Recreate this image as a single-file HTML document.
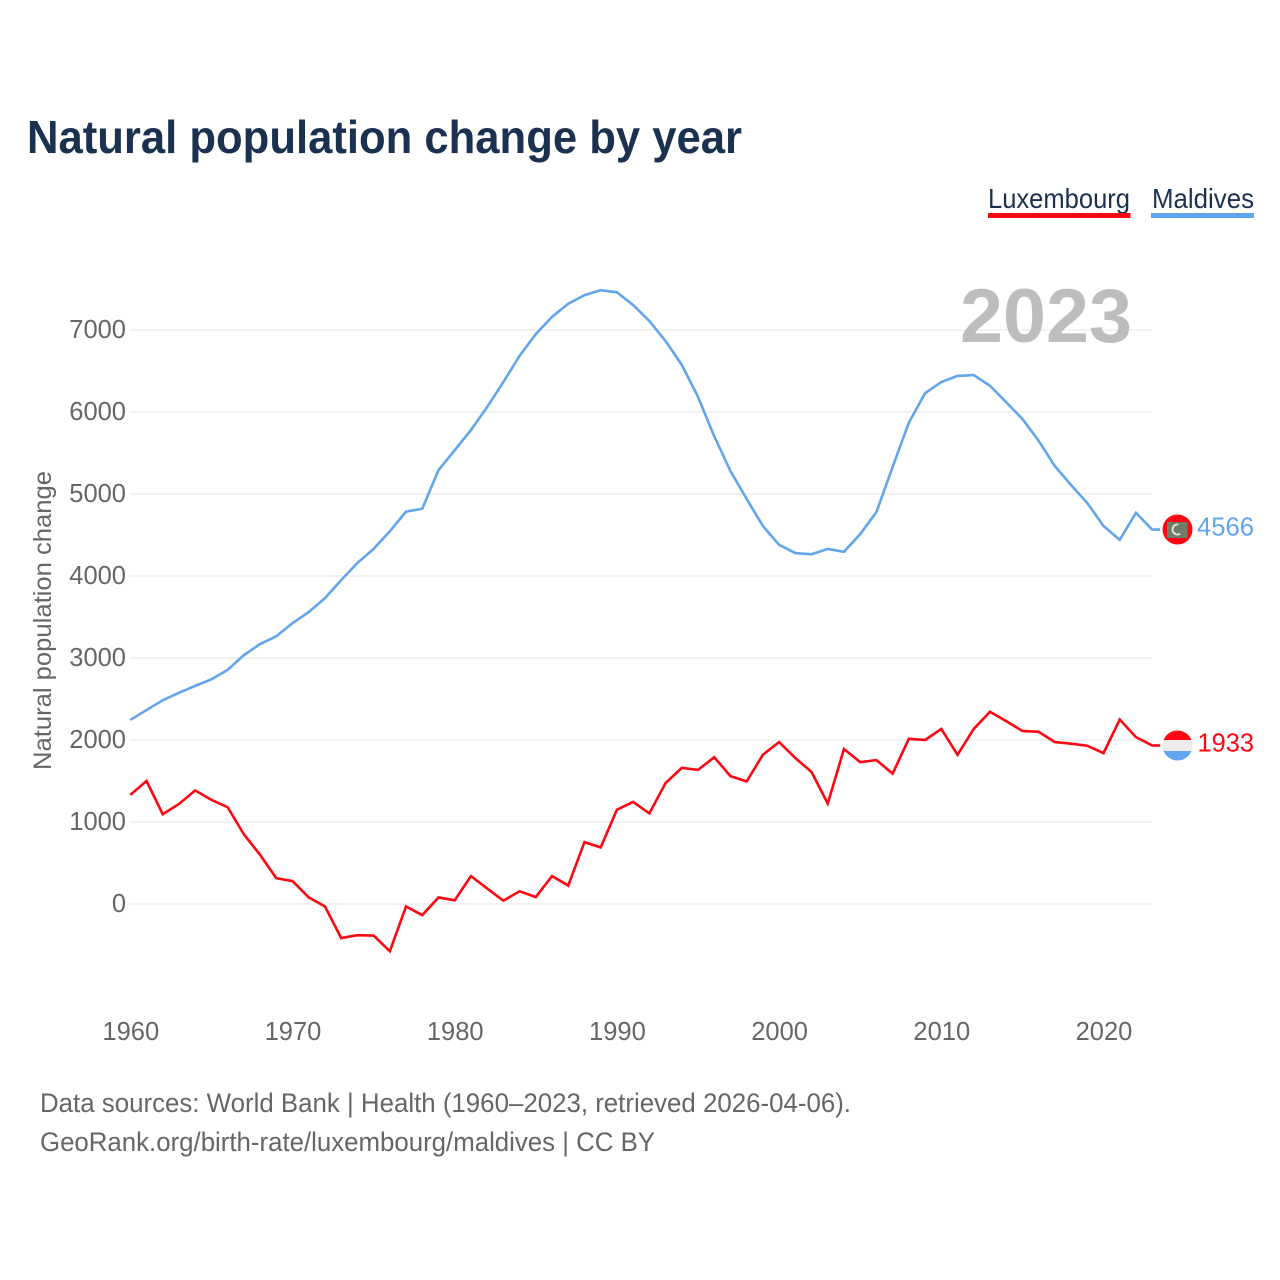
<!DOCTYPE html>
<html lang="en">
<head>
<meta charset="utf-8">
<title>Natural population change by year</title>
<style>
html,body{margin:0;padding:0;background:#fff;}
svg{display:block;}
text{font-family:"Liberation Sans",sans-serif;}
</style>
</head>
<body>
<svg id="chart" xmlns="http://www.w3.org/2000/svg" width="1280" height="1280" viewBox="0 0 1280 1280">
  <rect x="0" y="0" width="1280" height="1280" fill="#fff"/>
  <text x="27" y="153" font-size="46" font-weight="700" fill="#1a3150" textLength="715" lengthAdjust="spacingAndGlyphs">Natural population change by year</text>

  <g>
    <text x="988" y="208" font-size="28" fill="#1a3150" textLength="142" lengthAdjust="spacingAndGlyphs">Luxembourg</text>
    <rect x="988" y="213" width="142.500" height="5" fill="#ff0712"/>
  </g>
  <g>
    <text x="1152" y="208" font-size="28" fill="#1a3150" textLength="102" lengthAdjust="spacingAndGlyphs">Maldives</text>
    <rect x="1151" y="213" width="103" height="5" fill="#63a5ec"/>
  </g>

  <g id="grid"></g>
  <g id="yticks"></g>
  <g id="xticks"></g>
  <text transform="translate(51,770) rotate(-90)" font-size="25" fill="#666" textLength="299" lengthAdjust="spacingAndGlyphs">Natural population change</text>
  <text x="960" y="342" font-size="76" font-weight="700" fill="#bdbdbd" textLength="172" lengthAdjust="spacingAndGlyphs">2023</text>

  <g id="series"></g>

  <g>
    <circle cx="1177.500" cy="529.500" r="15" fill="#ff0712"/>
    <rect x="1167" y="522" width="20.500" height="16" fill="#6f7c68"/>
    <circle cx="1177.500" cy="529.500" r="5" fill="none" stroke="#e6e6e0" stroke-width="1.800" stroke-dasharray="19 12" transform="rotate(60 1177.500 529.500)"/>
  </g>
  <g>
    <clipPath id="lux-clip"><circle cx="1177.500" cy="745.500" r="15"/></clipPath>
    <g clip-path="url(#lux-clip)">
      <rect x="1162" y="730" width="31" height="10" fill="#ff0712"/>
      <rect x="1162" y="740" width="31" height="11" fill="#ececec"/>
      <rect x="1162" y="751" width="31" height="10" fill="#63a5ec"/>
    </g>
  </g>

  <text x="1197" y="535.500" font-size="26" fill="#63a5ec" textLength="57" lengthAdjust="spacingAndGlyphs">4566</text>
  <text x="1197.500" y="751.500" font-size="26" fill="#ff0712" textLength="56.500" lengthAdjust="spacingAndGlyphs">1933</text>

  <text x="40" y="1112" font-size="27" fill="#666" textLength="811" lengthAdjust="spacingAndGlyphs">Data sources: World Bank | Health (1960–2023, retrieved 2026-04-06).</text>
  <text x="40" y="1151" font-size="27" fill="#666" textLength="615" lengthAdjust="spacingAndGlyphs">GeoRank.org/birth-rate/luxembourg/maldives | CC BY</text>
</svg>
<script>
var startYear = 1960;
var yTickValues = [0, 1000, 2000, 3000, 4000, 5000, 6000, 7000];
var xTickValues = [1960, 1970, 1980, 1990, 2000, 2010, 2020];
var luxembourgValues = [1330,1500,1095,1220,1385,1270,1180,850,600,315,280,80,-30,-415,-380,-385,-575,-30,-135,80,45,340,190,40,155,85,340,225,755,690,1150,1245,1105,1475,1660,1635,1790,1560,1495,1820,1975,1780,1610,1225,1890,1730,1755,1590,2015,2000,2135,1820,2135,2345,2230,2110,2100,1975,1955,1930,1840,2250,2035,1933];
var maldivesValues = [2245,2365,2485,2575,2660,2740,2855,3035,3170,3265,3425,3560,3730,3950,4160,4330,4545,4785,4820,5290,5535,5780,6060,6365,6685,6950,7160,7320,7425,7485,7460,7305,7110,6865,6575,6185,5705,5280,4940,4610,4380,4280,4265,4330,4295,4510,4780,5330,5870,6230,6365,6440,6450,6320,6120,5915,5650,5340,5110,4890,4610,4440,4770,4566];

var NS = 'http://www.w3.org/2000/svg';
function xScale(year) { return 130.3 + (year - 1960) * 16.22; }
function yScale(value) { return 904 - value * 0.082; }

var grid = document.getElementById('grid');
var yticks = document.getElementById('yticks');
var xticks = document.getElementById('xticks');
var series = document.getElementById('series');

yTickValues.forEach(function (v) {
  var line = document.createElementNS(NS, 'line');
  
  
  line.setAttribute('x1', 130);
  line.setAttribute('x2', 1152);
  line.setAttribute('y1', yScale(v));
  line.setAttribute('y2', yScale(v));
  line.setAttribute('stroke', '#eeeeee');
  line.setAttribute('stroke-width', 1.5);
  grid.appendChild(line);

  var label = document.createElementNS(NS, 'text');
  
  
  label.setAttribute('x', 126);
  label.setAttribute('y', yScale(v) + 8);
  label.setAttribute('text-anchor', 'end');
  label.setAttribute('font-size', 25.5);
  label.setAttribute('fill', '#666');
  label.textContent = String(v);
  yticks.appendChild(label);
});

xTickValues.forEach(function (year) {
  var label = document.createElementNS(NS, 'text');
  
  
  label.setAttribute('x', xScale(year) + 0.5);
  label.setAttribute('y', 1040);
  label.setAttribute('text-anchor', 'middle');
  label.setAttribute('font-size', 25.5);
  label.setAttribute('fill', '#666');
  label.textContent = String(year);
  xticks.appendChild(label);
});

function linePoints(values) {
  var pts = values.map(function (v, i) {
    return xScale(startYear + i).toFixed(2) + ',' + yScale(v).toFixed(2);
  });
  var last = values[values.length - 1];
  pts.push((xScale(startYear + values.length - 1) + 8).toFixed(2) + ',' + yScale(last).toFixed(2));
  return pts.join(' ');
}

var luxLine = document.createElementNS(NS, 'polyline');


luxLine.setAttribute('points', linePoints(luxembourgValues));
luxLine.setAttribute('fill', 'none');
luxLine.setAttribute('stroke', '#ff0712');
luxLine.setAttribute('stroke-width', 2.6);
series.appendChild(luxLine);

var malLine = document.createElementNS(NS, 'polyline');


malLine.setAttribute('points', linePoints(maldivesValues));
malLine.setAttribute('fill', 'none');
malLine.setAttribute('stroke', '#63a5ec');
malLine.setAttribute('stroke-width', 2.6);
series.appendChild(malLine);
</script>
</body>
</html>
